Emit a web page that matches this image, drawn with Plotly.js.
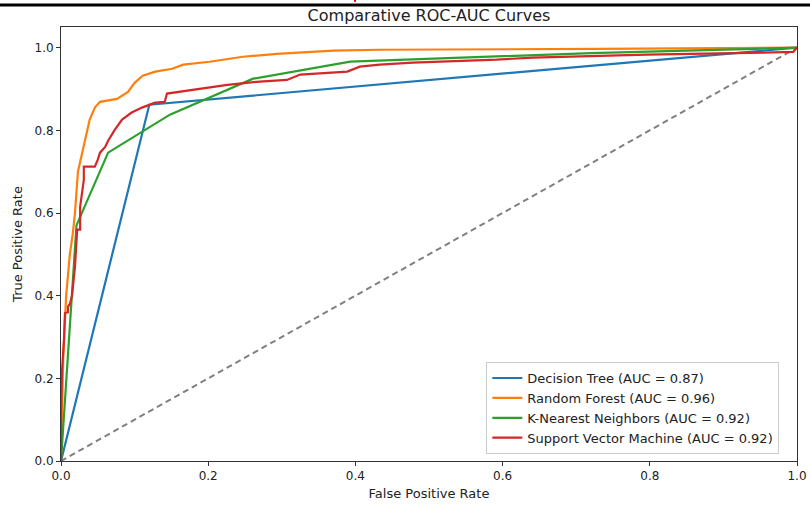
<!DOCTYPE html>
<html>
<head>
<meta charset="utf-8">
<script src="https://cdn.plot.ly/plotly-3.0.1.min.js"></script>
<style>html,body{margin:0;padding:0;background:#fff;}#chart{width:810px;height:505px;}</style>
</head>
<body>
<div id="chart"></div>
<script>
// Decision Tree (AUC = 0.87)
const dtFpr = [0, 0.12, 1];
const dtTpr = [0, 0.862, 1];

// Random Forest (AUC = 0.96)
const rfFpr = [0, 0.001, 0.003, 0.007, 0.012, 0.016, 0.019, 0.023, 0.029, 0.033, 0.039, 0.046, 0.053, 0.076, 0.091, 0.100, 0.111, 0.128, 0.151, 0.166, 0.202, 0.247, 0.293, 0.370, 0.433, 0.730, 1];
const rfTpr = [0, 0.12, 0.25, 0.40, 0.50, 0.55, 0.60, 0.70, 0.75, 0.78, 0.826, 0.855, 0.869, 0.876, 0.893, 0.915, 0.932, 0.942, 0.949, 0.959, 0.966, 0.978, 0.985, 0.993, 0.995, 0.997, 1];

// K-Nearest Neighbors (AUC = 0.92)
const knnFpr = [0, 0.021, 0.064, 0.148, 0.261, 0.393, 0.720, 1];
const knnTpr = [0, 0.57, 0.746, 0.838, 0.925, 0.966, 0.987, 1];

// Support Vector Machine (AUC = 0.92)
const svmFpr = [0, 0, 0.0014, 0.004, 0.0054, 0.0095, 0.0095, 0.012, 0.015, 0.019, 0.022, 0.026, 0.026, 0.031, 0.031, 0.046, 0.050, 0.053, 0.060, 0.064, 0.073, 0.083, 0.096, 0.110, 0.128, 0.141, 0.144, 0.179, 0.226, 0.270, 0.307, 0.325, 0.389, 0.406, 0.433, 0.478, 0.519, 0.592, 0.641, 0.682, 0.746, 0.796, 0.954, 0.995, 1];
const svmTpr = [0, 0.11, 0.22, 0.29, 0.358, 0.36, 0.373, 0.38, 0.40, 0.47, 0.56, 0.56, 0.615, 0.68, 0.712, 0.712, 0.729, 0.746, 0.76, 0.775, 0.801, 0.826, 0.843, 0.855, 0.867, 0.869, 0.889, 0.898, 0.91, 0.918, 0.922, 0.935, 0.942, 0.954, 0.959, 0.964, 0.966, 0.971, 0.976, 0.978, 0.981, 0.983, 0.988, 0.99, 1];

const chanceX = [0, 1];
const chanceY = [0, 1];

const names = ["Decision Tree (AUC = 0.87)", "Random Forest (AUC = 0.96)", "K-Nearest Neighbors (AUC = 0.92)", "Support Vector Machine (AUC = 0.92)"];
const colors = ["#1f77b4", "#ff7f0e", "#2ca02c", "#d62728"];
const xs = [dtFpr, rfFpr, knnFpr, svmFpr];
const ys = [dtTpr, rfTpr, knnTpr, svmTpr];

const FONT = "DejaVu Sans, sans-serif";
const traces = [{
  x: chanceX, y: chanceY, mode: "lines", showlegend: false, hoverinfo: "skip",
  line: {color: "#808080", width: 2, dash: "6px,4px"}
}];
for (let i = 0; i < names.length; i++) {
  traces.push({x: xs[i], y: ys[i], mode: "lines", name: names[i], line: {color: colors[i], width: 2.2}});
}

const axisCommon = {
  showline: true, mirror: true, linecolor: "#333", linewidth: 1,
  ticks: "outside", ticklen: 4, tickwidth: 1, tickcolor: "#333",
  showgrid: false, zeroline: false, tickformat: ".1f",
  tickfont: {family: FONT, size: 12, color: "#222"}
};

const layout = {
  width: 810, height: 505,
  margin: {l: 61, r: 13, t: 27, b: 44},
  paper_bgcolor: "#fff", plot_bgcolor: "#fff",
  title: {text: "Comparative ROC-AUC Curves", x: 0.5296, xanchor: "center", y: 0.969, yanchor: "middle",
          font: {family: FONT, size: 16, color: "#222"}},
  xaxis: Object.assign({}, axisCommon, {range: [0, 1], tickvals: [0, 0.2, 0.4, 0.6, 0.8, 1.0],
          title: {text: "False Positive Rate", standoff: 6, font: {family: FONT, size: 13, color: "#222"}}}),
  yaxis: Object.assign({}, axisCommon, {range: [0, 1.05], tickvals: [0, 0.2, 0.4, 0.6, 0.8, 1.0],
          title: {text: "True Positive Rate", standoff: 8, font: {family: FONT, size: 13, color: "#222"}}}),
  legend: {x: 0.976, xanchor: "right", y: 0.016, yanchor: "bottom",
           bgcolor: "rgba(255,255,255,0.85)", bordercolor: "#cccccc", borderwidth: 1,
           font: {family: FONT, size: 13, color: "#222"}, tracegroupgap: 0},
  shapes: [
    {type: "line", xref: "paper", yref: "paper", x0: -0.083, x1: 1.02, y0: 1.0507, y1: 1.0507,
     line: {color: "#000", width: 3}},
    {type: "line", xref: "paper", yref: "paper", x0: 0.3995, x1: 0.3995, y0: 1.058, y1: 1.063,
     line: {color: "#e00000", width: 2}}
  ],
  showlegend: true
};

Plotly.newPlot("chart", traces, layout, {displayModeBar: false, staticPlot: true});
</script>
</body>
</html>
